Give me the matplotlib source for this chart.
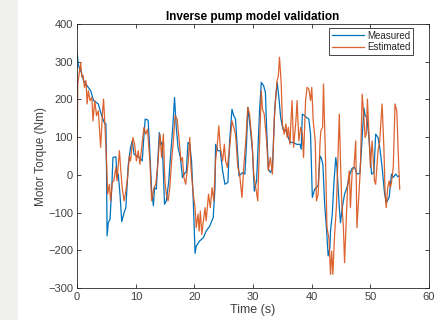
import numpy as np
import matplotlib.pyplot as plt
from matplotlib.patches import Rectangle

# Measured motor torque
t_meas = [0, 0.2, 0.7, 1.1, 1.7, 2.3, 2.8, 3.6, 4.1, 4.6, 4.9, 5.0, 5.1, 5.3, 5.6, 5.9,
          6.1, 6.6, 6.8, 7.0, 7.3, 7.6, 8.0, 8.3, 8.7, 9.1, 9.4, 9.7, 10.1, 10.7, 11.1,
          11.4, 11.6, 12.1, 12.3, 12.7, 13.0, 13.2, 13.5, 14.0, 14.3, 14.5, 14.9, 15.2,
          15.6, 15.9, 16.3, 16.6, 16.9, 17.2, 17.6, 17.95, 18.4, 18.6, 18.9, 19.2, 19.5,
          19.8, 20.1, 20.3, 20.9, 21.5, 22.0, 22.6, 23.2, 23.5, 23.6, 24.0, 24.4, 24.8,
          25.2, 25.7, 26.0, 26.4, 26.7, 27.0, 27.3, 27.6, 28.2, 28.6, 28.9, 29.1, 29.5,
          29.9, 30.2, 30.6, 30.9, 31.1, 31.4, 31.8, 32.1, 32.3, 32.6, 33.0, 33.3, 33.7,
          34.1, 34.4, 34.7, 35.1, 35.6, 36.0, 36.3, 36.8, 37.4, 38.0, 38.2, 38.4, 38.8,
          39.1, 39.5, 39.8, 40.1, 40.5, 41.1, 41.4, 41.6, 41.9, 42.2, 42.5, 42.8, 43.1,
          43.2, 43.5, 43.8, 44.1, 44.3, 44.7, 44.9, 45.2, 45.6, 46.0, 46.5, 46.9, 47.3,
          47.7, 48.2, 48.5, 48.9, 49.1, 49.4, 49.8, 50.2, 50.6, 50.9, 51.3, 51.6, 52.0,
          52.4, 52.7, 53.2, 53.6, 53.9, 54.3, 54.7, 54.9]
y_meas = [325, 290, 272, 250, 236, 223, 197, 188, 161, 139, 135, 20, -162, -127, -118, -34,
          46, 48, -7, 2, -51, -124, -100, -87, 24, 73, 90, 55, 50, 46, 37,
          108, 148, 145, 90, -43, -82, -34, -38, 112, 81, 86, -78, -69,
          -20, 46, 126, 205, 126, 73, 46, -7, 6, 6, 86, 81, 37,
          -69, -208, -189, -175, -167, -149, -136, -113, -34, 81, 64, 64, 11,
          -25, -20, 90, 174, 157, 148, 73, -3, 6, 2, 90, 179, 126,
          64, -43, -16, 99, 170, 245, 236, 219, 126, 15, 6, 20, 179,
          245, 205, 152, 121, 117, 99, 86, 86, 81, 81, 68, 161, 157,
          152, 148, 108, -60, -38, -29, 50, 46, 28, -78, -140, -215, -193,
          -149, -104, -16, 46, 20, -87, -127, -87, -51, -34, 2, 18, 20,
          2, 4, 73, 177, 157, 152, 90, 2, 6, 108, 99, 73, 20,
          -47, -74, -60, 2, -7, 2, -5, -3]

# Estimated motor torque from the inverse pump model
t_est = [0, 0.1, 0.3, 0.6, 0.8, 1.0, 1.25, 1.5, 1.7, 1.9, 2.2, 2.5, 2.7, 3.0, 3.3, 3.6,
         4.0, 4.3, 4.5, 4.7, 5.0, 5.2, 5.5, 5.7, 6.0, 6.25, 6.6, 6.8, 7.2, 7.4, 7.7,
         8.0, 8.3, 8.6, 8.9, 9.1, 9.5, 9.8, 10.1, 10.4, 10.7, 11.0, 11.4, 11.7, 12.0,
         12.4, 12.7, 13.1, 13.4, 13.75, 14.1, 14.4, 14.7, 14.95, 15.2, 15.5, 15.8, 16.1,
         16.4, 16.7, 17.05, 17.4, 17.7, 17.95, 18.2, 18.5, 18.9, 19.2, 19.4, 19.8, 20.1,
         20.3, 20.6, 20.8, 21.0, 21.25, 21.6, 21.8, 22.0, 22.4, 22.7, 23.0, 23.3, 23.6,
         23.9, 24.15, 24.4, 24.8, 25.1, 25.3, 25.6, 26.0, 26.4, 26.7, 27.0, 27.4, 27.7,
         28.1, 28.4, 28.75, 29.1, 29.4, 29.8, 30.1, 30.45, 30.8, 31.0, 31.4, 31.6, 31.9,
         32.3, 32.6, 32.95, 33.3, 33.6, 33.9, 34.1, 34.3, 34.5, 34.8, 35.0, 35.3, 35.6,
         35.8, 36.0, 36.3, 36.4, 36.65, 36.9, 37.3, 37.5, 37.8, 38.1, 38.4, 38.6, 38.95,
         39.2, 39.5, 39.8, 40.0, 40.25, 40.6, 40.8, 41.1, 41.4, 41.55, 41.85, 42.0, 42.3,
         42.6, 42.95, 43.2, 43.4, 43.6, 43.9, 44.2, 44.5, 44.7, 44.9, 45.1, 45.4, 45.6,
         45.9, 46.1, 46.4, 46.6, 46.9, 47.2, 47.5, 47.7, 48.05, 48.3, 48.6, 48.9, 49.1,
         49.3, 49.5, 49.8, 50.0, 50.3, 50.7, 50.9, 51.3, 51.6, 51.8, 52.0, 52.3, 52.5,
         52.7, 52.95, 53.2, 53.4, 53.6, 53.9, 54.2, 54.5, 54.8, 55.0]
y_est = [55, 241, 263, 298, 259, 263, 232, 250, 188, 223, 197, 205, 143, 197, 157, 170,
         73, 161, 201, 143, 37, -51, -25, -69, -20, -16, 20, -16, 64, 20, -38,
         -69, -43, -7, 50, 37, 99, 81, 37, 64, 28, 73, 126, 108, 121,
         37, -69, -34, -25, 28, 108, 46, 108, -16, -51, -69, -34, 37,
         90, 157, 148, 90, 37, 46, -7, -25, 28, 99, 20, -51, -87,
         -140, -104, -149, -96, -158, -113, -87, -122, -51, -87, -34, -69, 37,
         81, 130, 73, 37, 81, 37, 20, 73, 143, 126, 108, 20, 2,
         -60, 20, 90, 179, 161, 90, 2, -34, -69, 37, 223, 174, 161,
         90, 11, 46, 2, 143, 214, 250, 263, 312, 241, 135, 108, 135,
         99, 126, 81, 126, 197, 73, 143, 197, 90, 126, 108, 46, 197,
         232, 228, 197, 232, 143, 90, -69, -51, 81, 117, 126, 241, 73,
         -140, -171, -264, -202, -264, -158, -87, 64, 161, 37, -69, -140, -233,
         -113, -34, 11, -87, 11, 20, 90, -140, -51, 20, 214, 152, 99,
         108, 201, 90, 20, 90, -16, -25, 64, 90, 143, 188, 73, -43,
         -87, -34, -16, -34, -20, 20, 188, 170, 37, -38]

plt.rcParams['font.family'] = ['Liberation Sans', 'DejaVu Sans']

fig = plt.figure(figsize=(4.36, 3.2), dpi=100)
fig.patches.append(Rectangle((0, 0), 18 / 436, 1, transform=fig.transFigure,
                             facecolor='#f0f0ec', edgecolor='none', zorder=0))
ax = fig.add_axes([0.177, 0.1, 0.807, 0.825])

ax.plot(t_meas, y_meas, color='#0072BD', lw=0.9, label='Measured')
ax.plot(t_est, y_est, color='#D95319', lw=0.9, alpha=0.9, label='Estimated')

ax.set_xlim(0, 60)
ax.set_ylim(-300, 400)
ax.set_xticks(np.arange(0, 61, 10))
ax.set_yticks(np.arange(-300, 401, 100))
ax.tick_params(direction='in', top=True, right=True, length=3, width=0.6,
               labelsize=8, colors='#262626', labelcolor='#404040', pad=3)
for s in ax.spines.values():
    s.set_color('#262626')
    s.set_linewidth(0.6)

ax.set_title('Inverse pump model validation', fontsize=8.5, fontweight='bold',
             color='black', pad=3)
ax.set_xlabel('Time (s)', fontsize=9, color='#404040', labelpad=1)
ax.set_ylabel('Motor Torque (Nm)', fontsize=8.5, color='#404040', labelpad=1)

leg = ax.legend(loc='upper right', bbox_to_anchor=(0.955, 0.985), borderaxespad=0,
                fontsize=7, handlelength=3.3, handletextpad=0.3,
                borderpad=0.3, labelspacing=0.15, fancybox=False, framealpha=1)
leg.get_frame().set_edgecolor('#262626')
leg.get_frame().set_linewidth(0.6)
for txt in leg.get_texts():
    txt.set_color('#262626')

fig.savefig('out.png', dpi=100)
